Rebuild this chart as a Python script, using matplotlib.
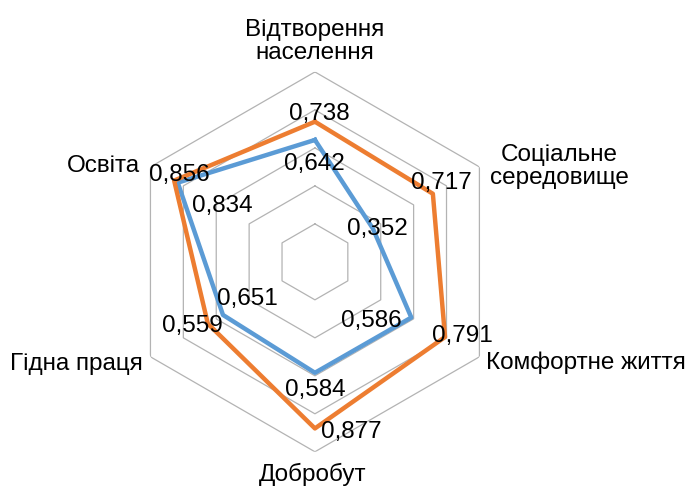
import numpy as np
import matplotlib.pyplot as plt

plt.rcParams['font.family'] = ['Liberation Sans', 'DejaVu Sans']

# categories, clockwise from the top
categories = ['Відтворення\nнаселення', 'Соціальне\nсередовище', 'Комфортне життя',
              'Добробут', 'Гідна праця', 'Освіта']
orange_vals = [0.738, 0.717, 0.791, 0.877, 0.651, 0.856]
blue_vals = [0.642, 0.352, 0.586, 0.584, 0.559, 0.834]
grid_levels = [0.2, 0.4, 0.6, 0.8, 1.0]

# label placement (pixels from the point) and alignment
orange_offsets = [(4, 2), (9, 5), (17, -5), (36, -10), (40, 19), (5, 0)]
blue_offsets = [(-1, -30), (5, -7), (-40, -9), (0, -23), (-31, -17), (45, -29)]
cat_offsets = [((0, 8), 'center', 'bottom'), ((80, 0), 'center', 'center'),
               ((7, -12), 'left', 'baseline'), ((-2, -29), 'center', 'baseline'),
               ((-8, -13), 'right', 'baseline'), ((-10, -5), 'right', 'baseline')]

ORANGE = '#ED7D31'
BLUE = '#5B9BD5'
FS = 17.5

n = len(categories)
theta = np.linspace(0, 2 * np.pi, n, endpoint=False)
theta_c = np.append(theta, theta[0])

fig = plt.figure(figsize=(6.92, 4.87), dpi=100)
ax = fig.add_axes([0.1806, 0.0723, 0.549, 0.780], projection='polar')
ax.set_theta_offset(np.pi / 2)
ax.set_theta_direction(-1)
ax.set_ylim(0, 1)
ax.grid(False)
ax.spines['polar'].set_visible(False)
ax.set_xticks([])
ax.set_yticks([])
ax.patch.set_alpha(0)

# hexagonal gridlines
for lv in grid_levels:
    ax.plot(theta_c, [lv] * (n + 1), color='#b3b3b3', lw=0.9, zorder=1)

ax.plot(theta_c, blue_vals + blue_vals[:1], color=BLUE, lw=3.2, zorder=3)
ax.plot(theta_c, orange_vals + orange_vals[:1], color=ORANGE, lw=3.2, zorder=4)


def fmt(v):
    return f'{v:.3f}'.replace('.', ',')


for vals, offs in [(orange_vals, orange_offsets), (blue_vals, blue_offsets)]:
    for t, v, off in zip(theta, vals, offs):
        ax.annotate(fmt(v), xy=(t, v), xytext=off, textcoords='offset pixels',
                    ha='center', va='baseline', fontsize=FS, color='black', zorder=6,
                    annotation_clip=False)

for t, lab, (off, ha, va) in zip(theta, categories, cat_offsets):
    ax.annotate(lab, xy=(t, 1.0), xytext=off, textcoords='offset pixels',
                ha=ha, va=va, fontsize=FS, color='black', linespacing=1.05,
                annotation_clip=False)

fig.savefig('out.png', dpi=100)
